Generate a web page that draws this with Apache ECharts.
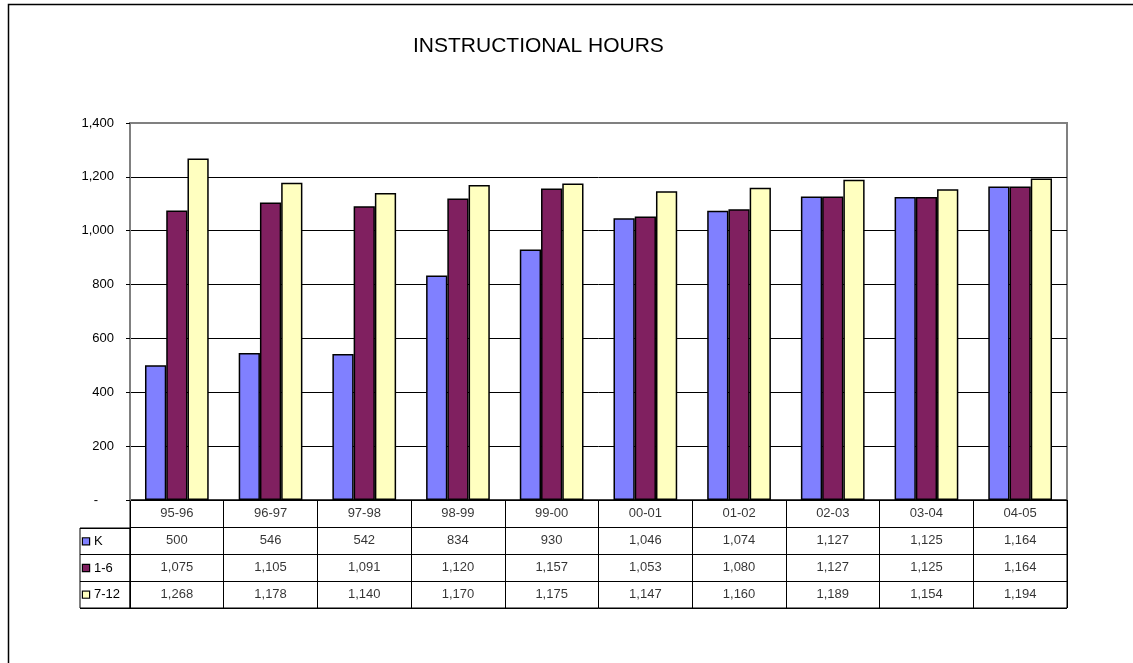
<!DOCTYPE html>
<html>
<head>
<meta charset="utf-8">
<script src="https://cdn.jsdelivr.net/npm/echarts@6/dist/echarts.min.js"></script>
<style>
html,body{margin:0;padding:0;background:#fff;}
#c{width:1133px;height:663px;}
</style>
</head>
<body>
<div id="c"></div>
<script>
var categories = ['95-96','96-97','97-98','98-99','99-00','00-01','01-02','02-03','03-04','04-05'];
var seriesNames = ['K','1-6','7-12'];
var valuesK   = [500, 546, 542, 834, 930, 1046, 1074, 1127, 1125, 1164];
var values1_6 = [1075, 1105, 1091, 1120, 1157, 1053, 1080, 1127, 1125, 1164];
var values7_12= [1268, 1178, 1140, 1170, 1175, 1147, 1160, 1189, 1154, 1194];
var yTicks = [0, 200, 400, 600, 800, 1000, 1200, 1400];
var colors = ['#8080FF', '#802060', '#FFFFC0'];

var FONT = '"Liberation Sans", Arial, sans-serif';
function fmt(v){ return v.toLocaleString('en-US'); }
var allValues = [valuesK, values1_6, values7_12];

var barSeries = allValues.map(function(vals, i){
  return {
    type: 'bar', name: seriesNames[i], xAxisIndex: 0, yAxisIndex: 0,
    data: vals, barGap: '0%', barCategoryGap: '32%',
    itemStyle: { color: colors[i], borderColor: '#000', borderWidth: 1.5 },
    silent: true
  };
});

var textBase = {
  type: 'scatter', xAxisIndex: 1, yAxisIndex: 1, symbolSize: 1,
  itemStyle: { color: 'rgba(0,0,0,0)' }, silent: true,
  label: { show: true, position: 'inside', color: '#000', fontSize: 13, fontFamily: FONT }
};
var headerSeries = Object.assign({}, textBase, {
  data: categories.map(function(c, i){ return [i, 0]; }),
  label: Object.assign({}, textBase.label, { formatter: function(p){ return categories[p.dataIndex]; } })
});
var valueSeries = allValues.map(function(vals, r){
  return Object.assign({}, textBase, {
    data: vals.map(function(v, i){ return [i, r + 1, v]; }),
    label: Object.assign({}, textBase.label, { formatter: function(p){ return fmt(p.value[2]); } })
  });
});

var rich = { g: { width: 5 } , t: { fontSize: 13, fontFamily: FONT, color: '#000' } };
colors.forEach(function(c, i){
  rich['s' + i] = { width: 6, height: 6, backgroundColor: c, borderColor: '#000', borderWidth: 1.2 };
});

var splitColors = yTicks.map(function(t){ return t === 1400 ? '#808080' : '#000'; });

var chart = echarts.init(document.getElementById('c'), null, { renderer: 'canvas' });
chart.setOption({
  animation: false,
  backgroundColor: '#fff',
  title: {
    text: 'INSTRUCTIONAL HOURS', left: 413, top: 36, padding: 0,
    textStyle: { fontFamily: FONT, fontSize: 21, fontWeight: 'normal', color: '#000' }
  },
  graphic: [{
    type: 'rect', left: 6, top: 2, z: -10,
    shape: { width: 1200, height: 720 },
    style: { fill: 'none', stroke: '#000', lineWidth: 1.5 }
  }],
  grid: [
    { left: 130, top: 123, width: 937, height: 377, show: true, borderColor: '#808080', borderWidth: 2, backgroundColor: '#fff' },
    { left: 130, top: 500, width: 937, height: 108, show: true, borderColor: '#000', borderWidth: 1 },
    { left: 80, top: 528, width: 50, height: 80, show: true, borderColor: '#000', borderWidth: 1 }
  ],
  xAxis: [
    { type: 'category', gridIndex: 0, data: categories, axisLabel: { show: false }, axisTick: { show: false }, axisLine: { show: false } },
    { type: 'category', gridIndex: 1, data: categories, axisLabel: { show: false }, axisTick: { show: false }, axisLine: { show: false },
      splitLine: { show: true, interval: 0, lineStyle: { color: '#000', width: 1 } } },
    { type: 'value', gridIndex: 2, show: false }
  ],
  yAxis: [
    { type: 'value', gridIndex: 0, min: 0, max: 1400, interval: 200,
      axisLine: { show: true, lineStyle: { color: '#808080', width: 2 } },
      axisTick: { show: true, length: 4, lineStyle: { color: '#000' } },
      splitLine: { show: true, lineStyle: { color: splitColors, width: 1 } },
      axisLabel: { fontSize: 13, fontFamily: FONT, color: '#000', margin: 16,
        formatter: function(v){ return v === 0 ? '{d|-}' : fmt(v); },
        rich: { d: { fontSize: 13, fontFamily: FONT, color: '#000', padding: [0, 16, 0, 0] } } } },
    { type: 'category', gridIndex: 1, inverse: true, data: ['', 'K', '1-6', '7-12'],
      axisLabel: { show: false }, axisTick: { show: false }, axisLine: { show: false },
      splitLine: { show: true, interval: 0, lineStyle: { color: '#000', width: 1 } } },
    { type: 'category', gridIndex: 2, inverse: true, data: seriesNames,
      axisTick: { show: false }, axisLine: { show: false },
      splitLine: { show: true, interval: 0, lineStyle: { color: '#000', width: 1 } },
      axisLabel: { inside: true, align: 'left', margin: 3, interval: 0,
        formatter: function(v, i){ return '{s' + i + '|}{g|}{t|' + v + '}'; }, rich: rich } }
  ],
  series: barSeries.concat([headerSeries]).concat(valueSeries)
});
</script>
</body>
</html>
